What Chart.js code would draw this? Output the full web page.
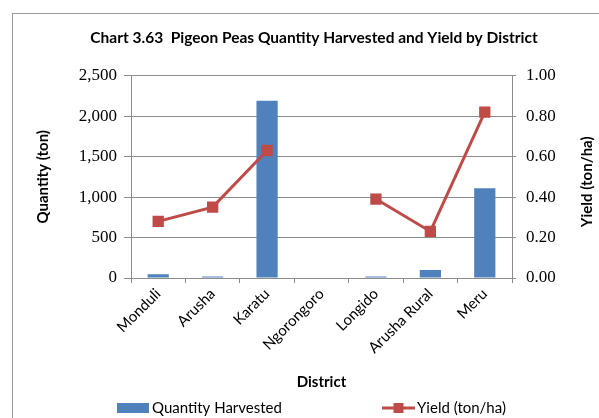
<!DOCTYPE html>
<html>
<head>
<meta charset="utf-8">
<script src="https://cdn.jsdelivr.net/npm/chart.js@4.4.0/dist/chart.umd.min.js"></script>
<style>
  html, body { margin: 0; padding: 0; background: #fff; overflow: hidden; }
  #wrap { position: relative; width: 599px; height: 418px; }
  #frame { position: absolute; left: 12px; top: 13px; width: 700px; height: 500px; border: 1px solid #9a9a9a; }
  canvas { position: absolute; left: 0; top: 0; }
</style>
</head>
<body>
<div id="wrap">
  <div id="frame"></div>
  <canvas id="chart" width="599" height="418"></canvas>
</div>
<script>
// values
var districts = ['Monduli', 'Arusha', 'Karatu', 'Ngorongoro', 'Longido', 'Arusha Rural', 'Meru'];
var quantityHarvested = [45, 20, 2190, 0, 20, 100, 1110];
var yieldTonHa = [0.28, 0.35, 0.63, null, 0.39, 0.23, 0.82];
var quantityTicks = [0, 500, 1000, 1500, 2000, 2500];
var yieldTicks = [0, 0.2, 0.4, 0.6, 0.8, 1.0];

var barBlue = '#4f81bd';
var lineRed = '#be4b48';
var gridGrey = '#8c8c8c';
var sansFont = 'Lato, "Open Sans", sans-serif';
var serifFont = '"Liberation Serif", "DejaVu Serif", serif';

// right axis title reads bottom-to-top like the left one, so draw it here
var rightTitle = {
  id: 'rightTitle',
  afterDraw: function (chart) {
    var ctx = chart.ctx, a = chart.chartArea;
    ctx.save();
    ctx.translate(587, (a.top + a.bottom) / 2 + 5);
    ctx.rotate(-Math.PI / 2);
    ctx.font = 'bold 15px ' + sansFont;
    ctx.fillStyle = '#000';
    ctx.textAlign = 'center';
    ctx.textBaseline = 'middle';
    ctx.fillText('Yield (ton/ha)', 0, 0);
    ctx.restore();
  }
};

// legend laid out like the original (wide gap between the two entries)
var wideLegend = {
  id: 'wideLegend',
  afterDraw: function (chart) {
    var ctx = chart.ctx;
    var y = 408;
    ctx.save();
    ctx.font = '15px ' + sansFont;
    ctx.textBaseline = 'middle';
    ctx.fillStyle = barBlue;
    ctx.fillRect(117, y - 5, 32, 10);
    ctx.fillStyle = '#000';
    ctx.fillText('Quantity Harvested', 152, y);

    ctx.strokeStyle = lineRed;
    ctx.lineWidth = 3;
    ctx.beginPath();
    ctx.moveTo(382, y);
    ctx.lineTo(415, y);
    ctx.stroke();
    ctx.fillStyle = lineRed;
    ctx.fillRect(398.5 - 5, y - 5, 10, 10);
    ctx.fillStyle = '#000';
    ctx.fillText('Yield (ton/ha)', 417, y);
    ctx.restore();
  }
};

var ctx = document.getElementById('chart').getContext('2d');
var myChart = new Chart(ctx, {
  type: 'bar',
  data: {
    labels: districts,
    datasets: [{
      type: 'line',
      label: 'Yield (ton/ha)',
      data: yieldTonHa,
      yAxisID: 'y1',
      borderColor: lineRed,
      backgroundColor: lineRed,
      borderWidth: 3,
      pointStyle: 'rect',
      pointRadius: 8,
      pointBorderWidth: 0,
      spanGaps: false,
      order: 0
    }, {
      label: 'Quantity Harvested',
      data: quantityHarvested,
      yAxisID: 'y',
      backgroundColor: barBlue,
      categoryPercentage: 1,
      barPercentage: 0.39,
      order: 1
    }]
  },
  options: {
    responsive: false,
    animation: false,
    layout: { padding: { left: 29, right: 0, top: 0, bottom: 20 } },
    plugins: {
      legend: { display: false },
      tooltip: { enabled: false },
      title: {
        display: true,
        text: 'Chart 3.63  Pigeon Peas Quantity Harvested and Yield by District',
        color: '#000',
        font: { family: sansFont, size: 15.5, weight: 'bold' },
        padding: { top: 29, bottom: 28 }
      }
    },
    scales: {
      x: {
        afterFit: function (s) { s.height = 120; },
        grid: { drawOnChartArea: false, drawTicks: true, tickLength: 5, color: gridGrey, offset: true },
        border: { display: true, color: gridGrey },
        ticks: {
          autoSkip: false, minRotation: 45, maxRotation: 45, padding: 2,
          color: '#000', font: { family: sansFont, size: 15 }
        },
        title: {
          display: true, text: 'District', color: '#000',
          font: { family: sansFont, size: 15, weight: 'bold' },
          padding: { top: 4, bottom: 7 }
        }
      },
      y: {
        position: 'left',
        min: 0, max: 2500,
        afterFit: function (s) { s.width = 102; },
        afterBuildTicks: function (s) { s.ticks = quantityTicks.map(function (v) { return { value: v }; }); },
        grid: { color: gridGrey, tickLength: 7 },
        border: { display: true, color: gridGrey },
        ticks: {
          padding: 7, color: '#000', font: { family: serifFont, size: 17 },
          callback: function (v) { return v.toLocaleString('en-US'); }
        },
        title: {
          display: true, text: 'Quantity (ton)', color: '#000',
          font: { family: sansFont, size: 15, weight: 'bold' },
          padding: { top: 5, bottom: 0 }
        }
      },
      y1: {
        position: 'right',
        min: 0, max: 1,
        afterFit: function (s) { s.width = 87; },
        afterBuildTicks: function (s) { s.ticks = yieldTicks.map(function (v) { return { value: v }; }); },
        grid: { drawOnChartArea: false, color: gridGrey, tickLength: 4 },
        border: { display: true, color: gridGrey },
        ticks: {
          padding: 10, color: '#000', font: { family: serifFont, size: 17 },
          callback: function (v) { return v.toFixed(2); }
        }
      }
    }
  },
  plugins: [rightTitle, wideLegend]
});
</script>
</body>
</html>
